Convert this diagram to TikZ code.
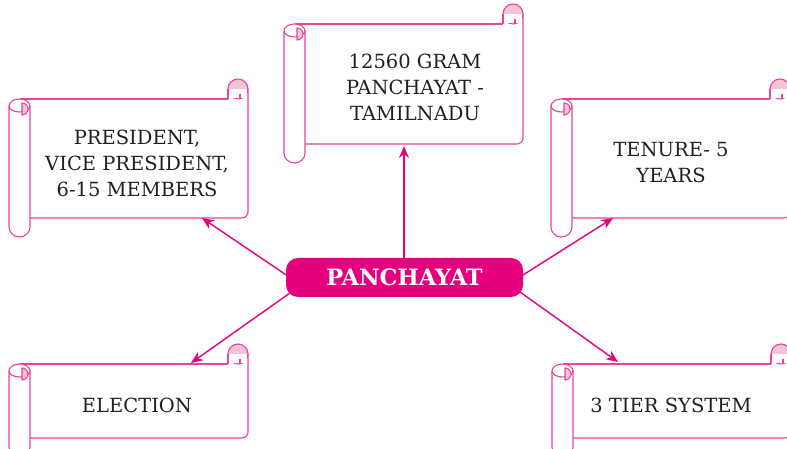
\documentclass[tikz,border=0pt]{standalone}
\usepackage{fontspec}
\setmainfont{DejaVu Serif}
\usetikzlibrary{arrows.meta,calc}
\definecolor{scr}{HTML}{E8449A}
\definecolor{mag}{HTML}{E6007E}
\definecolor{curl}{HTML}{F4C3D8}
\definecolor{txt}{HTML}{231F20}
\tikzset{
 scrline/.style={draw=scr,line width=1.1pt,line join=round},
 lbl/.style={text=txt,align=center,font=\fontsize{19.5}{26}\selectfont,inner sep=0pt},
 conn/.style={draw=mag,line width=1.4pt,-{Stealth[length=12pt,width=10pt]}},
 hub/.style={fill=mag,rounded corners=12pt,minimum width=237pt,minimum height=39pt,text=white,font=\fontsize{22.5}{25}\selectfont\bfseries,inner sep=0pt}
}
\newcommand\scrollshape[4]{%
\begin{scope}[shift={(#1,#2)}]
 \fill[white] (10,0) rectangle (#3,-#4);
 \draw[scrline] (10.5,0) -- (#3-20,0);
 \draw[scrline] (21,-#4) -- (#3-6,-#4) arc[start angle=270,end angle=360,radius=6] -- (#3,10);
 \draw[scrline,fill=curl] (#3-10,10) circle[radius=10];
 \fill[white] (#3-19.5,10) rectangle (#3-0.6,0.6);
 \draw[scrline] (#3-20,10) -- (#3-20,0);
 \draw[scrline] (#3-8,5) -- (#3-8,0);
 \draw[scrline,fill=white] (0,-7) -- (0,-#4-9) arc[start angle=180,end angle=360,x radius=10.5,y radius=10] -- (21,-7) arc[start angle=0,end angle=180,x radius=10.5,y radius=7] -- cycle;
 \draw[scrline] (0,-7) arc[start angle=180,end angle=360,x radius=10.5,y radius=6];
 \filldraw[scrline,fill=curl] (13,-4) arc[start angle=90,end angle=-90,radius=6] -- cycle;
\end{scope}}
\begin{document}
\begin{tikzpicture}[x=1pt,y=1pt]
\useasboundingbox (0,0) rectangle (787,449);
\scrollshape{9}{350}{239}{119}
\scrollshape{284}{425}{239}{120}
\scrollshape{551}{350}{239}{119}
\scrollshape{9}{85}{239}{74}
\scrollshape{552}{85}{239}{74}
\node[lbl] (t1) at (137,286) {PRESIDENT,\\VICE PRESIDENT,\\6-15 MEMBERS};
\node[lbl] (t2) at (415,362) {12560 GRAM\\PANCHAYAT -\\TAMILNADU};
\node[lbl] (t3) at (671,286) {TENURE- 5\\YEARS};
\node[lbl] (t4) at (137,44) {ELECTION};
\node[lbl] (t5) at (671,44) {3 TIER SYSTEM};
\coordinate (c0) at (404.5,171.5);
\coordinate (a1) at (202,231);
\coordinate (a2) at (404,303);
\coordinate (a3) at (613,231);
\coordinate (a4) at (191,86);
\coordinate (a5) at (618,87);
\coordinate (s1) at (290,171.5);
\coordinate (s2) at (404,185);
\coordinate (s3) at (519,171.5);
\coordinate (s4) at (290,156);
\coordinate (s5) at (520,157);
\draw[conn] (s1) -- (a1);
\draw[conn] (s2) -- (a2);
\draw[conn] (s3) -- (a3);
\draw[conn] (s4) -- (a4);
\draw[conn] (s5) -- (a5);
\node[hub] (c) at (c0) {PANCHAYAT};
\end{tikzpicture}
\end{document}
